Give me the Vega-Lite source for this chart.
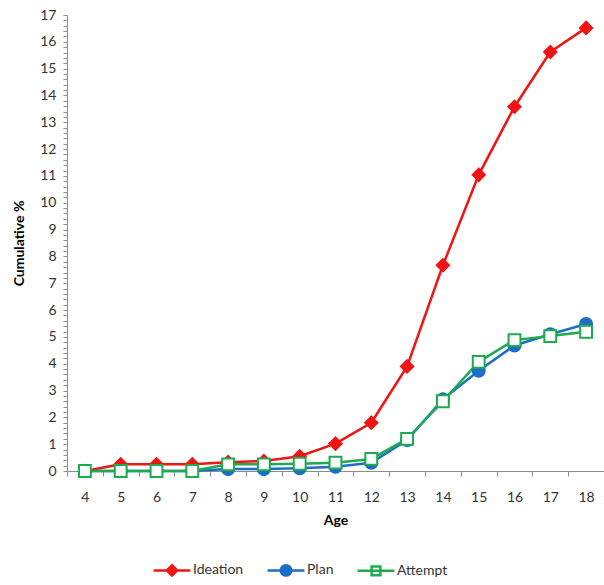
{
  "$schema": "https://vega.github.io/schema/vega-lite/v6.json",
  "width": 537,
  "height": 456,
  "padding": {"top": 8, "left": 12, "right": 0, "bottom": 5},
  "autosize": {"type": "pad"},
  "background": "white",
  "config": {
    "view": {"stroke": null},
    "font": "Lato",
    "axis": {"labelFont": "Lato", "titleFont": "Lato", "labelFontSize": 14, "labelColor": "#333333", "titleFontSize": 14, "titleFontWeight": "bold", "titleColor": "#000000", "domainColor": "#8c8c8c", "tickColor": "#8c8c8c", "grid": false},
    "legend": {"labelFont": "Lato", "labelFontSize": 14, "labelColor": "#333333"}
  },
  "data": {"values": [
    {"age": 4, "series": "Ideation", "value": 0},
    {"age": 5, "series": "Ideation", "value": 0.25},
    {"age": 6, "series": "Ideation", "value": 0.25},
    {"age": 7, "series": "Ideation", "value": 0.25},
    {"age": 8, "series": "Ideation", "value": 0.33},
    {"age": 9, "series": "Ideation", "value": 0.37},
    {"age": 10, "series": "Ideation", "value": 0.55},
    {"age": 11, "series": "Ideation", "value": 1.02},
    {"age": 12, "series": "Ideation", "value": 1.8},
    {"age": 13, "series": "Ideation", "value": 3.9},
    {"age": 14, "series": "Ideation", "value": 7.67},
    {"age": 15, "series": "Ideation", "value": 11.04},
    {"age": 16, "series": "Ideation", "value": 13.58},
    {"age": 17, "series": "Ideation", "value": 15.62},
    {"age": 18, "series": "Ideation", "value": 16.52},
    {"age": 4, "series": "Plan", "value": 0},
    {"age": 5, "series": "Plan", "value": 0},
    {"age": 6, "series": "Plan", "value": 0},
    {"age": 7, "series": "Plan", "value": 0},
    {"age": 8, "series": "Plan", "value": 0.07},
    {"age": 9, "series": "Plan", "value": 0.07},
    {"age": 10, "series": "Plan", "value": 0.1},
    {"age": 11, "series": "Plan", "value": 0.16},
    {"age": 12, "series": "Plan", "value": 0.31},
    {"age": 13, "series": "Plan", "value": 1.15},
    {"age": 14, "series": "Plan", "value": 2.67},
    {"age": 15, "series": "Plan", "value": 3.74},
    {"age": 16, "series": "Plan", "value": 4.68},
    {"age": 17, "series": "Plan", "value": 5.1},
    {"age": 18, "series": "Plan", "value": 5.48},
    {"age": 4, "series": "Attempt", "value": 0},
    {"age": 5, "series": "Attempt", "value": 0},
    {"age": 6, "series": "Attempt", "value": 0},
    {"age": 7, "series": "Attempt", "value": 0},
    {"age": 8, "series": "Attempt", "value": 0.25},
    {"age": 9, "series": "Attempt", "value": 0.25},
    {"age": 10, "series": "Attempt", "value": 0.27},
    {"age": 11, "series": "Attempt", "value": 0.31},
    {"age": 12, "series": "Attempt", "value": 0.45},
    {"age": 13, "series": "Attempt", "value": 1.2},
    {"age": 14, "series": "Attempt", "value": 2.6},
    {"age": 15, "series": "Attempt", "value": 4.07},
    {"age": 16, "series": "Attempt", "value": 4.88},
    {"age": 17, "series": "Attempt", "value": 5.03},
    {"age": 18, "series": "Attempt", "value": 5.19}
  ]},
  "encoding": {
    "x": {"field": "age", "type": "ordinal", "title": "Age",
      "scale": {"type": "band", "paddingInner": 0, "paddingOuter": 0},
      "axis": {"labelAngle": 0, "tickBand": "extent", "tickSize": 5, "labelPadding": 14, "titlePadding": 9}},
    "y": {"field": "value", "type": "quantitative", "title": "Cumulative %",
      "scale": {"domain": [0, 17], "nice": false},
      "axis": {"values": [0,0.2,0.4,0.6,0.8,1,1.2,1.4,1.6,1.8,2,2.2,2.4,2.6,2.8,3,3.2,3.4,3.6,3.8,4,4.2,4.4,4.6,4.8,5,5.2,5.4,5.6,5.8,6,6.2,6.4,6.6,6.8,7,7.2,7.4,7.6,7.8,8,8.2,8.4,8.6,8.8,9,9.2,9.4,9.6,9.8,10,10.2,10.4,10.6,10.8,11,11.2,11.4,11.6,11.8,12,12.2,12.4,12.6,12.8,13,13.2,13.4,13.6,13.8,14,14.2,14.4,14.6,14.8,15,15.2,15.4,15.6,15.8,16,16.2,16.4,16.6,16.8,17],
        "labelExpr": "abs(datum.value - round(datum.value)) < 0.01 ? format(datum.value, 'd') : ''",
        "tickSize": 4, "labelPadding": 7, "titlePadding": 13}}
  },
  "layer": [
    {
      "mark": {"type": "line", "strokeWidth": 2.5},
      "encoding": {
        "color": {"field": "series", "type": "nominal", "legend": null,
          "scale": {"domain": ["Ideation", "Plan", "Attempt"], "range": ["#f01414", "#1c6fc6", "#1eaa4e"]}},
        "detail": {"field": "series"}
      }
    },
    {
      "mark": {"type": "point", "filled": false, "opacity": 1, "strokeWidth": 2},
      "encoding": {
        "shape": {"field": "series", "type": "nominal", "legend": null,
          "scale": {"domain": ["Ideation", "Plan", "Attempt"], "range": ["diamond", "circle", "square"]}},
        "size": {"field": "series", "type": "nominal", "legend": null,
          "scale": {"domain": ["Ideation", "Plan", "Attempt"], "range": [150, 140, 110]}},
        "stroke": {"field": "series", "type": "nominal", "legend": null,
          "scale": {"domain": ["Ideation", "Plan", "Attempt"], "range": ["#f01414", "#1c6fc6", "#1eaa4e"]}},
        "fill": {"field": "series", "type": "nominal", "legend": null,
          "scale": {"domain": ["Ideation", "Plan", "Attempt"], "range": ["#f01414", "#1c6fc6", "#ffffff"]}}
      }
    },
    {
      "mark": {"type": "point", "filled": false, "opacity": 0, "strokeWidth": 2.5},
      "encoding": {
        "stroke": {"field": "series", "type": "nominal", "title": null,
          "scale": {"domain": ["Ideation", "Plan", "Attempt"], "range": ["#f01414", "#1c6fc6", "#1eaa4e"]}},
        "fill": {"field": "series", "type": "nominal", "title": null,
          "scale": {"domain": ["Ideation", "Plan", "Attempt"], "range": ["#f01414", "#1c6fc6", "#ffffff"]}},
        "shape": {"field": "series", "type": "nominal", "title": null,
          "scale": {"domain": ["Ideation", "Plan", "Attempt"], "range": [
            "M-1.6,0H1.6M0,-0.45L0.45,0L0,0.45L-0.45,0Z",
            "M-1.6,0H1.6M0.45,0A0.45,0.45 0 1,1 -0.45,0A0.45,0.45 0 1,1 0.45,0Z",
            "M-1.6,0H1.6M-0.38,-0.38H0.38V0.38H-0.38Z"]},
          "legend": {"orient": "none", "legendX": 92, "legendY": 542, "direction": "horizontal", "padding": 0,
            "symbolSize": 530, "symbolOpacity": 1, "symbolStrokeWidth": 2.5, "columnPadding": 18, "labelOffset": 8}}
      }
    }
  ],
  "resolve": {"scale": {"shape": "independent", "stroke": "independent", "fill": "independent"}}
}
